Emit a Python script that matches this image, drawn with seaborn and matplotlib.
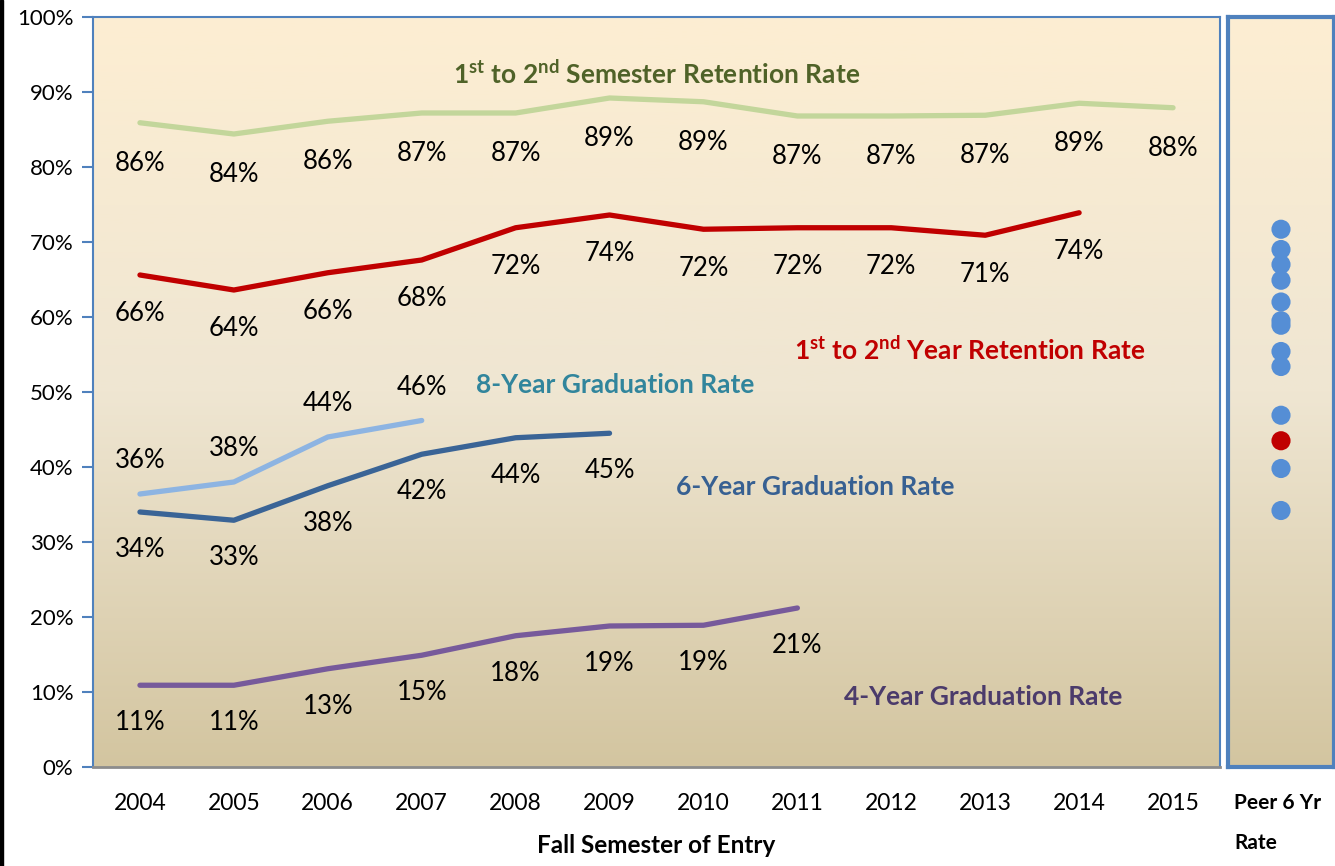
import numpy as np
import pandas as pd
import matplotlib
matplotlib.use("Agg")
import matplotlib.pyplot as plt
import seaborn as sns
from matplotlib.colors import LinearSegmentedColormap

sns.set_theme(style="white")
plt.rcParams['font.family'] = ['Lato', 'DejaVu Sans']
plt.rcParams['mathtext.fontset'] = 'custom'
plt.rcParams['mathtext.rm'] = 'Lato'
plt.rcParams['mathtext.bf'] = 'Lato:bold'
plt.rcParams['text.color'] = 'black'
plt.rcParams['xtick.color'] = 'black'
plt.rcParams['ytick.color'] = 'black'
plt.rcParams['axes.labelcolor'] = 'black'

# ---------------- data ----------------
years = ["2004", "2005", "2006", "2007", "2008", "2009", "2010", "2011", "2012", "2013", "2014", "2015"]
semester_ret = [85.9, 84.4, 86.1, 87.2, 87.2, 89.2, 88.7, 86.8, 86.8, 86.9, 88.5, 87.9]
semester_lbl = ["86%", "84%", "86%", "87%", "87%", "89%", "89%", "87%", "87%", "87%", "89%", "88%"]
year_ret = [65.6, 63.6, 65.9, 67.6, 71.9, 73.6, 71.7, 71.9, 71.9, 70.9, 73.9]
year_lbl = ["66%", "64%", "66%", "68%", "72%", "74%", "72%", "72%", "72%", "71%", "74%"]
grad8 = [36.4, 38.0, 44.0, 46.2]
grad8_lbl = ["36%", "38%", "44%", "46%"]
grad6 = [34.0, 32.9, 37.5, 41.7, 43.9, 44.5]
grad6_lbl = ["34%", "33%", "38%", "42%", "44%", "45%"]
grad4 = [10.9, 10.9, 13.1, 14.9, 17.5, 18.8, 18.9, 21.2]
grad4_lbl = ["11%", "11%", "13%", "15%", "18%", "19%", "19%", "21%"]
peer_6yr = [71.7, 69.0, 67.0, 64.9, 62.0, 59.5, 58.9, 55.4, 53.4, 46.9, 39.8, 34.2]
own_6yr = [43.5]
yticks = [0, 10, 20, 30, 40, 50, 60, 70, 80, 90, 100]
ytick_labels = ["0%", "10%", "20%", "30%", "40%", "50%", "60%", "70%", "80%", "90%", "100%"]

# ---------------- figure ----------------
W, H = 1335, 866
fig = plt.figure(figsize=(W / 100, H / 100), dpi=100)
fig.patch.set_facecolor("white")
ax = fig.add_axes([93 / W, 99 / H, (1220 - 93) / W, 750 / H])
pax = fig.add_axes([1228 / W, 99 / H, (1334 - 1228) / W, 750 / H])

# black strip on the far left edge
fig.patches.append(plt.Rectangle((0, 0), 3 / W, 1, transform=fig.transFigure,
                                 color="black", zorder=10))

cmap = LinearSegmentedColormap.from_list("bg", ["#D3C5A0", "#EFE6D2", "#FDEED2"])
grad = np.linspace(0, 1, 256).reshape(-1, 1)
for a in (ax, pax):
    a.imshow(grad, extent=[0, 1, 0, 1], transform=a.transAxes, origin="lower",
             cmap=cmap, aspect="auto", zorder=0)

x_all = np.arange(len(years))

def draw(values, labels, color, offset):
    xs = x_all[:len(values)]
    sns.lineplot(x=xs, y=values, ax=ax, color=color, lw=3.8, zorder=3,
                 solid_capstyle="round", solid_joinstyle="round")
    for xi, v, t in zip(xs, values, labels):
        ax.annotate(t, (xi, v), xytext=(0, offset), textcoords="offset points",
                    ha="center", va="center", fontsize=18.5, color="black", zorder=4)

draw(semester_ret, semester_lbl, "#C3D69B", -29)
draw(year_ret, year_lbl, "#C00000", -28)
draw(grad8, grad8_lbl, "#8DB4E2", 24)
draw(grad6, grad6_lbl, "#3A6496", -27)
draw(grad4, grad4_lbl, "#775A9B", -27)

name_kw = dict(ha="center", va="center", fontsize=19, fontweight="bold", zorder=4)
ax.text(5.5, 92.4, r"1$^{\mathbf{st}}$ to 2$^{\mathbf{nd}}$ Semester Retention Rate",
        color="#4F6228", **name_kw)
ax.text(8.84, 55.7, r"1$^{\mathbf{st}}$ to 2$^{\mathbf{nd}}$ Year Retention Rate",
        color="#C00000", **name_kw)
ax.text(5.06, 50.9, "8-Year Graduation Rate", color="#31859C", **name_kw)
ax.text(7.19, 37.3, "6-Year Graduation Rate", color="#376092", **name_kw)
ax.text(8.98, 9.3, "4-Year Graduation Rate", color="#4B3B6B", **name_kw)

ax.set_xlim(-0.5, len(years) - 0.5)
ax.set_ylim(0, 100)
ax.set_yticks(yticks)
ax.set_yticklabels(ytick_labels, fontsize=16)
ax.set_xticks(x_all)
ax.set_xticklabels(years, fontsize=16.5)
ax.set_xticks(np.arange(-0.5, len(years), 1.0), minor=True)
ax.tick_params(axis="x", which="major", length=0, pad=19)
ax.tick_params(axis="x", which="minor", length=7, width=1.5, color="#8C8C8C", direction="out")
ax.tick_params(axis="y", length=8, width=1.5, color="#4F81BD", labelcolor="black",
               direction="out", pad=6, left=True)
ax.set_xlabel("Fall Semester of Entry", fontsize=17.5, fontweight="bold", labelpad=14)
ax.set_ylabel("")
for s in ("left", "top", "right"):
    ax.spines[s].set_color("#4F81BD")
    ax.spines[s].set_linewidth(1.5)
ax.spines["bottom"].set_color("#8C8C8C")
ax.spines["bottom"].set_linewidth(2)
ax.grid(False)

# peer panel
sns.scatterplot(x=[0] * len(peer_6yr), y=peer_6yr, ax=pax, color="#558ED5", s=190,
                edgecolor="none", zorder=3)
sns.scatterplot(x=[0] * len(own_6yr), y=own_6yr, ax=pax, color="#C00000", s=190,
                edgecolor="none", zorder=3)
pax.set_xlim(-1, 1)
pax.set_ylim(0, 100)
pax.set_xticks([])
pax.set_yticks([])
pax.set_xlabel("")
pax.set_ylabel("")
for s in pax.spines.values():
    s.set_color("#4F81BD")
    s.set_linewidth(3)
pax.grid(False)
fig.text(1234 / W, 1 - 803 / H, "Peer 6 Yr", fontsize=15, fontweight="bold",
         ha="left", va="center")
fig.text(1234 / W, 1 - 843 / H, "Rate", fontsize=15, fontweight="bold",
         ha="left", va="center")

fig.savefig("out.png", dpi=100, facecolor="white")
